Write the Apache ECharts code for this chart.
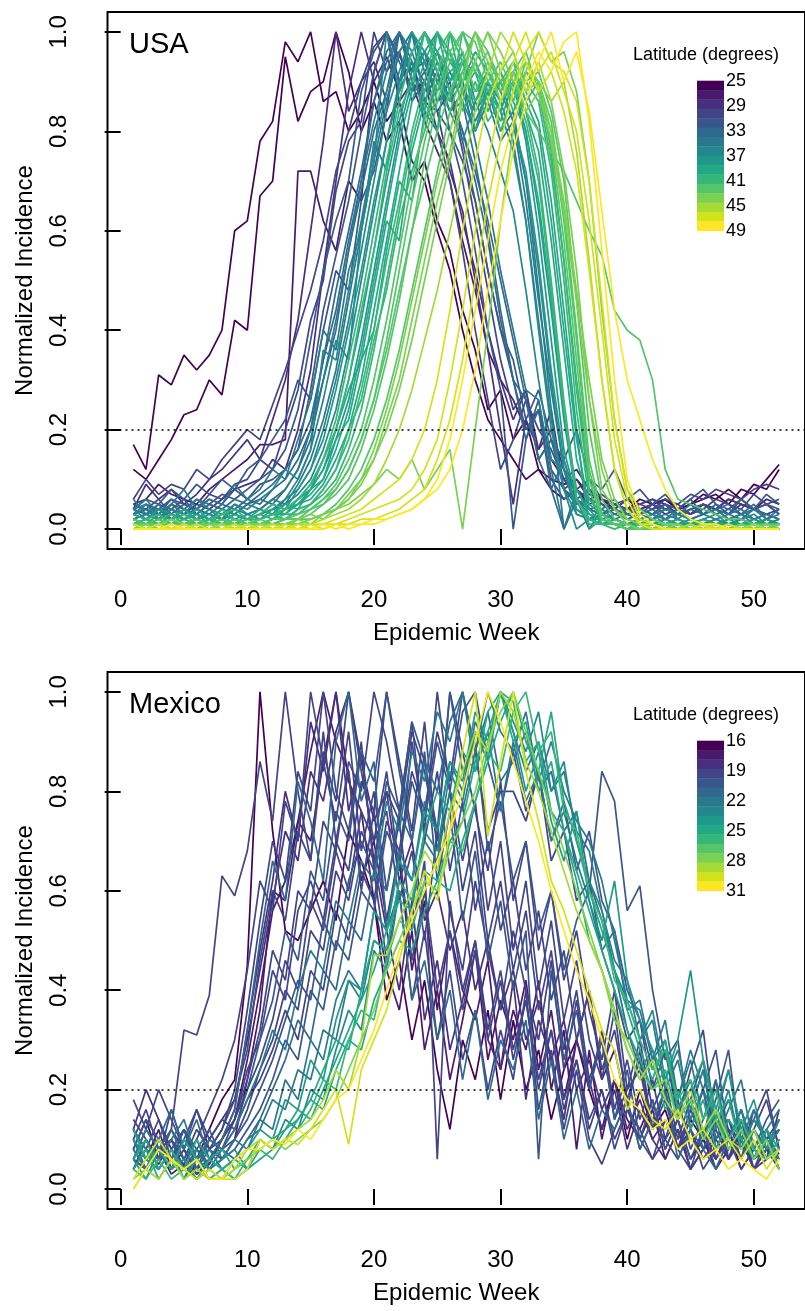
<!DOCTYPE html>
<html><head><meta charset="utf-8">
<script src="https://cdn.jsdelivr.net/npm/echarts@6/dist/echarts.min.js"></script>
<style>html,body{margin:0;padding:0;background:#fff}#c{width:805px;height:1311px}</style>
</head><body><div id="c"></div>
<script>
const weeks = [1,2,3,4,5,6,7,8,9,10,11,12,13,14,15,16,17,18,19,20,21,22,23,24,25,26,27,28,29,30,31,32,33,34,35,36,37,38,39,40,41,42,43,44,45,46,47,48,49,50,51,52];
const xTicks = [0,10,20,30,40,50];
const yTicks = [0,0.2,0.4,0.6,0.8,1.0];
const usaLegendTicks = [25,29,33,37,41,45,49];
const mexLegendTicks = [16,19,22,25,28,31];
const viridis16 = ['#440154','#481A6C','#472F7D','#414487','#39568C','#31688E','#2A788E','#23888E','#1F988B','#22A884','#35B779','#54C568','#7AD151','#A5DB36','#D2E21B','#FDE725'];

// USA: latitude of each line and weekly normalized incidence (percent of peak)
const usaLat = [25.5,26,27,28,29,29.5,30.5,31,31.5,32,32.5,33,33.5,34,35,35,35.5,36,36,36.5,37,37.5,38,38.5,39,39,39.5,40,40,40.5,40.5,41,41.5,41.5,42,42,42.5,43,43,43.5,44,45,46,46.5,47,48,48.5];
const US01 = [17,12,31,29,35,32,35,40,60,62,78,82,98,94,100,86,88,80,84,90,82,86,74,70,60,52,40,30,22,18,14,10,12,8,6,8,5,6,4,6,4,5,6,4,5,7,6,8,6,9,8,12];
const US02 = [12,10,14,18,23,24,30,27,42,40,67,70,95,82,88,90,100,92,80,86,78,82,70,74,62,56,44,36,24,28,18,22,12,10,9,10,7,6,5,4,6,5,6,4,5,6,7,5,8,7,10,13];
const US03 = [5,6,9,7,6,5,8,10,12,14,17,17,18,72,72,62,56,70,66,92,100,86,90,82,76,70,58,48,36,30,26,20,24,14,10,12,8,6,5,4,5,6,5,4,3,5,4,6,5,4,6,5];
const US04 = [4,9,6,8,5,7,10,12,15,18,14,22,30,42,60,78,100,84,90,94,86,96,88,90,80,74,62,52,40,30,22,28,16,20,12,8,10,6,5,4,3,4,5,3,4,5,4,3,5,4,3,4];
const US05 = [2,3,2,4,3,5,4,6,8,9,10,14,12,20,32,52,70,88,100,90,95,88,94,86,84,72,64,50,36,20,5,22,16,24,8,10,6,5,4,3,4,5,3,4,3,5,4,6,5,4,5,3];
const US06 = [6,10,7,9,8,12,10,14,17,20,18,25,32,40,48,58,72,80,90,97,100,90,94,84,80,70,56,40,26,12,18,26,20,16,10,8,6,7,5,6,5,4,6,5,7,6,8,7,6,8,9,8];
const US07 = [3,5,4,6,5,4,7,6,9,10,14,12,20,28,42,50,68,78,82,100,92,96,86,90,84,88,76,62,48,34,24,28,14,18,10,6,8,5,4,6,5,6,4,5,3,4,6,5,4,7,5,6];
const US08 = [4,3,5,4,6,3,5,7,6,8,10,12,16,24,38,52,62,70,88,96,100,94,88,92,84,80,70,56,40,28,0,18,26,12,8,6,4,5,3,4,3,5,4,3,4,5,3,4,6,4,5,3];
const US09 = [4,6,5,8,6,9,7,10,8,12,14,18,22,30,26,40,52,48,66,72,84,100,90,86,92,80,74,66,52,40,34,22,28,18,14,20,10,8,12,6,8,5,7,4,6,8,5,3,6,4,7,5];
const US10 = [5,4,6,3,5,4,6,5,8,6,9,10,12,16,28,44,55,66,80,92,100,95,92,96,86,90,78,66,52,40,30,20,24,10,6,8,4,3,5,4,4,3,5,4,6,3,4,5,3,4,5,4];
const US11 = [3,4,3,5,4,6,5,4,6,5,7,9,12,16,22,34,44,58,70,86,96,100,92,94,86,88,80,70,58,42,30,18,24,8,14,6,0,4,6,3,4,3,5,2,4,3,5,4,3,5,2,4];
const US12 = [3,4,2,5,3,4,3,5,4,6,5,8,10,14,20,34,48,60,72,86,94,100,92,96,90,84,86,74,60,44,30,26,14,8,0,6,4,3,4,2,3,4,2,3,5,3,4,3,2,4,3,2];
const US13 = [4,5,3,6,4,3,5,4,3,5,6,5,8,12,18,30,40,56,68,80,88,100,94,90,96,88,80,72,62,50,38,26,14,18,8,5,6,3,4,3,2,3,4,3,2,3,4,2,3,2,3,2];
const US14 = [2,3,4,3,2,4,3,2,4,3,4,6,5,9,14,22,32,46,60,74,86,96,100,92,96,88,90,78,66,52,40,28,26,12,0,8,4,3,2,3,2,3,2,4,2,3,2,3,4,2,3,2];
const US15 = [6,3,5,2,4,3,2,4,3,5,4,6,8,12,20,30,42,56,70,82,92,100,96,88,94,86,90,82,88,80,84,70,48,24,0,6,3,2,3,2,1,2,3,2,1,2,1,2,3,1,2,1];
const US16 = [4,6,3,5,8,4,6,5,9,6,8,12,10,18,26,40,36,52,60,78,72,90,100,86,92,84,88,80,86,78,82,66,46,28,12,5,6,3,4,2,3,2,4,3,2,3,4,2,3,4,2,3];
const US17 = [3,2,4,2,3,2,4,2,3,2,3,4,6,10,16,36,34,48,62,76,88,96,100,94,88,92,86,80,90,84,76,62,40,20,8,3,2,3,2,1,2,1,2,3,2,1,2,1,2,3,1,2];
const US18 = [2,3,2,4,2,3,1,2,3,2,3,4,5,7,10,16,24,36,50,64,78,90,96,100,94,90,96,86,92,88,82,70,52,30,12,4,2,1,2,1,1,2,1,2,1,1,2,1,1,2,1,1];
const US19 = [3,5,2,4,3,6,4,3,5,4,6,8,12,10,16,26,38,34,60,74,100,88,94,82,90,84,78,86,80,72,64,48,30,14,12,3,2,4,2,1,2,3,1,2,1,2,3,1,2,1,2,1];
const US20 = [4,2,3,2,4,2,3,2,5,3,4,3,6,8,12,20,30,42,56,70,84,92,100,94,90,96,88,84,90,86,78,62,42,22,8,0,2,3,2,1,2,1,2,1,2,1,2,1,2,1,1,2];
const US21 = [2,1,3,2,1,2,3,2,1,3,2,3,4,6,8,14,20,30,42,56,70,82,92,100,96,90,94,88,92,86,90,78,60,38,16,6,2,2,1,1,1,2,1,1,2,1,1,2,1,1,2,1];
const US22 = [3,2,4,3,2,3,2,4,3,2,3,5,4,8,12,18,28,40,52,66,78,88,100,96,92,86,94,84,88,90,82,72,54,32,14,4,2,1,2,1,1,1,2,1,1,2,1,1,1,2,1,1];
const US23 = [1,2,1,3,2,1,2,1,2,3,2,3,4,5,8,12,18,26,38,52,66,80,90,96,100,94,90,96,92,86,90,80,64,44,22,6,2,1,1,0,1,1,0,1,1,0,1,1,0,1,1,0];
const US24 = [2,1,3,1,2,4,2,1,3,2,4,3,5,4,8,12,20,28,34,48,62,58,76,86,80,100,88,92,84,90,86,80,66,46,24,8,3,2,1,1,1,0,1,2,1,0,1,1,0,1,0,1];
const US25 = [2,1,2,1,2,3,1,2,1,2,3,2,4,5,7,10,16,24,36,50,64,78,88,100,96,92,94,88,90,84,92,86,80,62,40,18,4,1,1,1,0,1,1,0,1,0,1,0,1,1,0,1];
const US26 = [3,2,1,2,4,2,1,3,2,1,2,4,3,6,8,10,18,22,34,40,56,70,66,84,100,90,96,80,88,82,90,84,76,58,36,14,5,3,2,1,1,2,1,0,1,2,1,0,1,1,0,1];
const US27 = [1,2,1,2,1,1,2,1,2,1,2,3,3,5,6,9,14,20,30,44,58,72,86,94,100,96,90,94,88,84,92,88,82,66,44,20,0,2,1,1,1,0,1,0,1,1,0,1,0,1,0,1];
const US28 = [1,2,3,1,2,1,2,3,4,2,3,5,4,6,9,14,22,34,46,60,74,86,96,100,94,88,92,86,90,80,88,84,72,50,26,6,1,1,0,1,0,1,0,1,0,0,1,0,1,0,0,1];
const US29 = [1,2,1,0,1,2,1,2,1,2,1,2,2,4,5,8,12,20,26,38,48,62,72,80,90,86,100,94,86,92,84,90,86,72,50,24,6,3,1,1,0,1,0,1,0,1,0,1,0,0,1,0];
const US30 = [2,1,1,2,1,2,1,1,2,1,1,2,3,3,5,7,10,16,24,36,50,64,78,88,96,100,94,92,88,90,94,86,90,76,54,28,8,1,1,0,1,0,0,1,0,1,0,0,1,0,1,0];
const US31 = [2,1,2,3,1,2,1,4,2,1,2,3,4,6,9,14,20,30,44,56,72,84,90,100,92,96,84,90,82,86,90,82,70,48,24,6,2,1,1,0,1,0,1,0,1,0,0,1,0,1,0,0];
const US32 = [1,1,2,1,3,1,2,1,1,2,2,3,2,4,5,8,12,18,28,40,54,66,80,90,100,96,90,94,88,92,86,92,88,74,54,30,10,2,1,0,0,1,0,0,1,0,0,1,0,0,1,0];
const US33 = [1,0,1,1,0,1,1,2,1,1,2,1,2,3,4,6,9,14,20,30,42,56,70,82,92,100,96,88,94,90,86,94,88,80,62,38,12,2,1,1,0,0,1,0,0,1,0,0,0,1,0,0];
const US34 = [0,1,1,0,1,1,0,1,1,0,1,1,2,2,4,5,8,12,18,26,38,52,66,78,88,96,100,98,90,94,88,92,90,82,64,40,14,3,1,1,0,0,1,0,0,0,1,0,0,0,0,1];
const US35 = [1,1,0,1,1,0,1,1,0,1,1,1,2,2,3,5,7,10,16,24,34,46,60,74,86,94,100,92,96,90,92,96,88,78,58,34,10,2,1,0,0,1,0,0,0,1,0,0,0,0,1,0];
const US36 = [2,1,2,1,1,2,1,1,2,1,1,2,2,3,4,6,8,12,18,26,36,48,60,70,80,88,94,100,92,86,90,84,80,76,72,66,60,55,44,40,38,30,12,6,5,4,3,2,2,1,1,1];
const US37 = [1,0,1,0,0,1,0,1,0,1,0,1,1,2,2,3,5,8,12,18,26,36,48,60,72,84,92,100,96,88,94,90,92,84,70,46,20,6,2,1,0,0,0,1,0,0,0,0,1,0,0,0];
const US38 = [0,1,0,0,1,0,0,1,0,0,1,0,1,1,2,3,4,6,10,14,22,30,42,54,66,76,88,94,100,96,90,94,90,86,72,52,26,8,4,2,1,0,0,0,1,0,0,0,0,0,1,0];
const US39 = [0,1,0,1,0,0,1,0,1,0,1,0,1,1,2,3,4,6,9,14,20,28,38,50,62,74,86,94,100,92,96,88,90,80,66,48,30,14,6,2,1,0,0,1,0,0,0,1,0,0,0,1];
const US40 = [1,0,1,2,1,0,1,1,0,1,1,1,0,2,3,2,4,5,7,9,12,10,14,8,12,16,0,20,40,62,80,92,100,94,96,88,70,44,22,8,4,2,1,1,0,1,0,0,1,0,0,0];
const US41 = [0,0,1,0,0,1,0,0,0,1,0,1,1,2,1,3,4,7,10,16,24,34,46,58,70,80,90,100,94,86,92,84,88,78,64,46,26,12,4,1,0,1,0,0,0,1,0,0,0,0,1,0];
const US42 = [0,0,0,1,0,0,0,1,0,0,1,0,0,1,1,2,3,4,6,9,14,20,28,38,48,60,72,84,92,100,96,88,94,86,90,76,54,30,12,4,1,0,0,0,1,0,0,0,0,1,0,0];
const US43 = [0,0,1,0,0,0,0,0,1,0,0,0,1,0,1,1,2,3,4,6,8,10,14,20,30,44,60,74,86,92,100,94,88,92,84,72,52,30,12,4,1,0,0,0,0,0,1,0,0,0,0,0];
const US44 = [1,0,0,0,1,0,0,0,0,1,0,0,0,1,0,1,1,2,3,4,5,6,8,12,18,30,44,60,74,86,94,100,92,96,88,80,62,40,18,6,1,1,0,0,0,1,0,0,0,0,0,0];
const US45 = [0,0,0,0,0,1,0,0,0,0,0,1,0,0,1,0,1,1,2,2,3,4,6,8,14,22,34,50,66,78,88,96,100,94,92,86,70,46,22,8,2,1,0,0,0,0,0,1,0,0,0,0];
const US46 = [0,0,0,0,0,0,0,0,0,0,0,0,0,0,0,1,0,1,1,2,2,3,4,6,10,18,30,44,58,72,82,90,96,92,98,100,82,56,30,10,3,1,0,0,0,0,0,0,0,0,0,0];
const US47 = [0,0,0,1,0,0,0,0,0,0,0,0,0,0,0,0,1,0,1,1,2,3,4,6,8,12,20,32,48,62,76,86,94,100,90,96,84,64,44,30,22,14,8,4,2,1,1,0,0,0,0,0];
const usaLines = [US01,US02,US03,US04,US05,US06,US07,US08,US09,US10,US11,US12,US13,US14,US15,US16,US17,US18,US19,US20,US21,US22,US23,US24,US25,US26,US27,US28,US29,US30,US31,US32,US33,US34,US35,US36,US37,US38,US39,US40,US41,US42,US43,US44,US45,US46,US47];

// Mexico: one line per state
const mexLat = [16.5,17,17.5,18,18.8,19,19,19.1,19.2,19.3,19.4,19.4,19.5,19.6,20.5,20.3,20.8,20.6,21,21.7,22,22.2,22.8,24,24.5,25,25,25.6,27.3,28.6,29.3,30.8];
const MX01 = [8,14,6,10,4,6,12,18,22,45,100,72,52,50,56,62,54,72,66,58,38,46,30,42,24,12,30,22,36,18,34,20,28,14,24,30,20,12,22,10,20,12,16,8,14,10,6,12,4,8,6,10];
const MX02 = [10,6,12,4,8,3,5,10,14,26,40,56,62,74,70,86,100,82,76,58,44,36,52,28,40,22,34,48,26,38,30,42,24,36,18,30,40,22,28,16,12,18,8,14,6,10,4,8,12,6,10,7];
const MX03 = [6,4,8,3,5,2,4,6,10,22,36,60,58,74,88,100,90,84,62,70,54,66,44,58,36,52,40,34,46,24,36,28,42,20,32,8,28,10,22,14,10,16,6,12,4,8,14,6,10,4,8,12];
const MX04 = [12,20,14,8,12,6,10,14,18,30,44,58,72,66,84,78,92,100,86,74,80,62,70,54,60,48,56,40,50,36,44,30,38,26,34,20,26,16,22,12,18,10,14,8,12,6,10,14,8,12,6,16];
const MX05 = [4,8,5,10,6,3,6,10,16,32,48,62,80,70,94,84,100,76,88,66,52,40,58,34,46,28,38,50,30,24,42,18,34,26,14,30,22,12,20,8,16,10,6,12,4,8,10,6,12,4,6,8];
const MX06 = [14,10,6,16,8,4,10,8,14,24,30,44,38,56,62,54,70,64,82,76,100,86,72,94,68,80,60,72,50,62,44,56,36,48,28,40,22,30,14,20,24,12,18,8,14,20,6,12,10,4,8,14];
const MX07 = [6,12,8,4,10,6,8,12,20,36,54,70,62,84,76,100,80,72,90,64,46,60,38,52,30,44,26,36,20,32,22,40,16,28,12,24,10,5,12,18,8,14,10,6,12,4,8,10,6,12,8,4];
const MX08 = [8,4,10,6,12,8,5,10,14,20,26,34,46,40,58,52,68,60,76,70,84,64,90,72,100,80,66,78,56,70,48,62,40,54,34,46,30,22,36,16,28,12,20,8,16,24,10,14,6,12,18,8];
const MX09 = [10,6,4,8,5,10,16,22,30,44,62,56,78,70,100,86,74,92,68,80,60,74,52,66,6,58,40,50,32,44,28,38,22,32,18,26,14,20,10,16,12,6,10,14,4,8,12,6,10,4,8,6];
const MX10 = [4,10,6,12,8,4,6,8,10,16,24,30,40,36,52,48,64,58,72,66,80,74,92,84,70,100,88,76,64,82,58,70,48,60,42,52,36,26,40,20,30,16,22,10,18,26,8,14,10,6,12,8];
const MX11 = [12,8,14,6,10,16,8,12,18,28,46,60,54,72,66,88,78,100,84,70,76,58,68,50,72,56,44,62,48,36,52,40,30,46,24,38,20,32,16,26,14,22,10,18,8,14,20,12,6,16,10,14];
const MX12 = [6,4,8,10,6,12,8,10,14,22,32,48,42,60,56,74,68,86,80,100,90,76,94,70,84,64,78,56,70,52,62,44,56,38,48,30,40,24,32,18,26,12,20,8,16,10,22,6,14,4,10,12];
const MX13 = [18,12,20,14,8,16,10,14,12,18,22,28,36,30,44,40,56,50,64,58,74,68,84,76,92,82,100,88,72,80,80,74,84,66,72,58,62,48,40,30,34,20,28,14,24,32,12,18,10,14,20,8];
const MX14 = [10,16,8,12,32,31,39,63,59,68,86,74,100,80,66,92,70,84,60,76,54,68,46,60,40,52,36,48,30,42,26,38,20,32,16,26,12,20,8,16,10,6,14,8,4,12,6,10,4,8,6,10];
const MX15 = [8,14,10,6,12,4,8,6,10,14,20,26,34,42,38,54,48,62,70,64,82,76,94,86,72,100,84,90,68,78,62,70,52,60,44,54,60,84,78,56,61,40,26,30,12,20,28,10,16,8,14,18];
const MX16 = [6,10,4,8,12,6,10,8,12,20,30,38,52,46,64,58,76,70,88,82,100,84,70,88,62,76,54,68,46,58,40,52,6,44,26,36,20,30,14,24,10,18,8,14,6,12,4,10,14,6,8,12];
const MX17 = [12,6,10,16,8,14,6,10,16,32,50,66,58,82,74,62,90,100,78,86,52,60,38,46,30,40,22,36,18,30,24,34,14,26,10,20,8,16,12,18,8,14,20,6,12,8,4,10,16,6,12,4];
const MX18 = [4,8,6,10,4,8,12,6,8,12,16,22,30,26,40,36,50,46,60,56,72,66,82,74,90,80,96,100,86,76,88,76,84,70,78,64,72,58,52,40,34,24,28,16,22,10,18,28,8,14,10,6];
const MX19 = [10,4,8,12,6,10,4,8,6,10,14,20,26,34,30,44,40,54,50,64,60,76,70,86,80,94,100,88,96,82,86,92,80,84,72,76,62,54,44,32,24,28,18,14,18,8,14,10,6,12,8,14];
const MX20 = [6,12,8,4,10,6,8,4,6,10,12,18,16,24,22,32,30,42,38,50,48,62,58,70,66,80,76,88,100,92,88,96,82,90,80,74,70,62,50,38,36,26,30,18,26,14,22,10,16,8,12,6];
const MX21 = [8,4,10,6,2,8,4,6,10,8,14,12,22,18,30,26,38,44,40,56,52,68,62,78,72,86,80,94,88,100,92,84,90,80,84,72,68,56,46,42,30,34,20,26,14,20,10,16,22,8,12,16];
const MX22 = [12,8,6,10,14,6,10,8,12,18,24,32,28,40,48,44,58,54,66,62,78,72,88,82,96,90,100,84,92,76,90,78,84,70,76,66,58,48,52,36,38,26,34,18,28,20,14,24,10,16,8,12];
const MX23 = [6,2,8,4,6,2,4,6,8,4,10,8,14,12,20,18,28,36,32,48,44,60,56,72,68,84,78,92,86,100,94,88,96,80,86,70,62,56,44,38,30,36,22,28,16,24,12,20,8,14,10,6];
const MX24 = [10,6,4,8,2,6,4,2,6,8,12,10,18,16,26,22,34,42,40,56,52,66,62,76,72,86,82,96,90,100,92,80,88,74,66,76,58,50,62,42,34,28,22,30,44,26,16,24,12,18,8,14];
const MX25 = [4,8,2,6,4,2,6,4,2,4,6,8,10,14,18,24,30,28,40,50,48,62,58,72,80,76,88,84,96,100,90,94,80,86,72,64,56,48,40,32,26,20,24,14,18,10,16,8,12,6,10,4];
const MX26 = [12,6,8,4,10,6,2,4,6,4,8,10,12,16,14,20,26,32,38,44,52,58,56,64,62,70,74,86,92,100,98,86,90,76,72,62,50,44,36,28,22,26,16,20,12,18,8,14,10,6,12,8];
const MX27 = [6,10,4,8,4,10,6,8,4,6,10,8,12,14,18,16,24,30,28,38,44,50,48,56,62,60,70,78,86,94,100,90,84,96,78,70,60,52,44,36,28,22,30,16,20,26,14,18,8,12,6,10];
const MX28 = [4,2,6,2,4,6,2,4,2,6,8,6,10,12,16,22,20,30,36,34,46,54,52,62,60,70,68,78,88,84,96,100,88,92,76,72,60,54,42,38,30,24,28,18,22,14,20,10,14,8,6,10];
const MX29 = [2,4,2,6,2,4,2,2,4,6,8,10,8,10,12,14,18,24,30,36,44,50,56,62,60,68,74,80,90,96,100,92,84,76,68,60,52,44,34,30,24,20,22,14,18,10,14,8,12,6,10,4];
const MX30 = [0,4,2,6,2,4,2,2,4,8,10,8,10,12,14,18,24,20,30,47,47,54,60,68,64,76,84,92,88,100,96,86,80,72,64,56,50,44,36,28,22,26,18,14,20,12,16,10,8,12,6,8];
const MX31 = [2,6,10,6,4,2,4,2,2,4,10,8,10,9,12,16,20,9,24,30,36,46,56,64,58,72,88,100,71,86,100,84,74,62,56,48,40,32,28,16,20,14,12,16,10,12,8,10,6,10,4,8];
const MX32 = [0,4,8,6,4,6,2,2,6,8,8,10,9,12,10,14,18,20,26,32,40,48,54,60,66,72,80,90,100,94,86,78,70,60,52,44,38,30,22,18,16,12,14,8,10,6,8,4,6,4,2,6];
const mexLines = [MX01,MX02,MX03,MX04,MX05,MX06,MX07,MX08,MX09,MX10,MX11,MX12,MX13,MX14,MX15,MX16,MX17,MX18,MX19,MX20,MX21,MX22,MX23,MX24,MX25,MX26,MX27,MX28,MX29,MX30,MX31,MX32];

const FONT = '"Liberation Sans", Arial, Helvetica, sans-serif';
function binColor(lat, lo, hi) {
  const b = Math.floor((lat - lo) / (hi - lo) * 16);
  return viridis16[Math.max(0, Math.min(15, b))];
}
const series = [];
function addPanel(lines, lats, lo, hi, gi) {
  lines.forEach((vals, k) => {
    const col = binColor(lats[k], lo, hi);
    series.push({
      type: 'line', xAxisIndex: gi, yAxisIndex: gi,
      data: weeks.map((w, i) => [w, vals[i] / 100]),
      showSymbol: false, symbol: 'none', silent: true, animation: false,
      lineStyle: { width: 1.7, color: col }, itemStyle: { color: col }, z: 2
    });
  });
  series[series.length - 1].markLine = {
    silent: true, symbol: 'none', animation: false,
    label: { show: false },
    lineStyle: { color: '#000', type: [2, 4], width: 1.5 },
    data: [{ yAxis: 0.2 }]
  };
}
function addBar(lo, hi, gi) {
  const step = (hi - lo) / 16;
  const data = viridis16.map((c, i) => [lo + i * step, lo + (i + 1) * step, i]);
  series.push({
    type: 'custom', xAxisIndex: gi, yAxisIndex: gi, data: data, silent: true, animation: false,
    renderItem: function (p, api) {
      const a = api.coord([0, api.value(0)]);
      const b = api.coord([1, api.value(1)]);
      return {
        type: 'rect',
        shape: { x: Math.min(a[0], b[0]), y: Math.min(a[1], b[1]), width: Math.abs(b[0] - a[0]), height: Math.abs(b[1] - a[1]) + 0.4 },
        style: { fill: viridis16[api.value(2)] }
      };
    }
  });
}
addPanel(usaLines, usaLat, 25, 49, 0);
addPanel(mexLines, mexLat, 16, 31, 1);
addBar(25, 49, 2);
addBar(16, 31, 3);

function mainX(gi) {
  return {
    gridIndex: gi, type: 'value', min: -1.04, max: 54.04,
    splitLine: { show: false }, axisLine: { show: false },
    axisTick: { show: true, length: 16, customValues: xTicks, lineStyle: { color: '#000', width: 2 } },
    axisLabel: { customValues: xTicks, margin: 39, fontSize: 24, color: '#000', fontFamily: FONT },
    name: 'Epidemic Week', nameLocation: 'middle', nameGap: 72,
    nameTextStyle: { fontSize: 24, color: '#000', fontFamily: FONT }
  };
}
function mainY(gi) {
  return {
    gridIndex: gi, type: 'value', min: -0.04, max: 1.04,
    splitLine: { show: false }, axisLine: { show: false },
    axisTick: { show: true, length: 16, customValues: yTicks, lineStyle: { color: '#000', width: 2 } },
    axisLabel: { customValues: yTicks, rotate: 90, margin: 36, fontSize: 24, color: '#000', fontFamily: FONT,
      formatter: v => Number(v).toFixed(1) },
    name: 'Normalized Incidence', nameLocation: 'middle', nameGap: 70,
    nameTextStyle: { fontSize: 24, color: '#000', fontFamily: FONT }
  };
}
function barX(gi) { return { gridIndex: gi, type: 'value', min: 0, max: 1, show: false }; }
function barY(gi, lo, hi, ticks) {
  return {
    gridIndex: gi, type: 'value', min: lo, max: hi, inverse: true, position: 'right',
    splitLine: { show: false }, axisLine: { show: false }, axisTick: { show: false },
    axisLabel: { customValues: ticks, margin: 2, fontSize: 18, color: '#000', fontFamily: FONT, showMinLabel: true, showMaxLabel: true }
  };
}
const titleStyle = (size) => ({ fontSize: size, fontWeight: 'normal', color: '#000', fontFamily: FONT });

const option = {
  backgroundColor: '#fff',
  animation: false,
  title: [
    { text: 'USA', left: 129, top: 30, padding: 0, textStyle: titleStyle(29) },
    { text: 'Mexico', left: 129, top: 690, padding: 0, textStyle: titleStyle(29) },
    { text: 'Latitude (degrees)', left: 633, top: 46, padding: 0, textStyle: titleStyle(18) },
    { text: 'Latitude (degrees)', left: 633, top: 706, padding: 0, textStyle: titleStyle(18) }
  ],
  grid: [
    { left: 107.5, top: 12, width: 706.3, height: 537, show: true, borderColor: '#000', borderWidth: 2, backgroundColor: 'transparent' },
    { left: 107.5, top: 672, width: 706.3, height: 537, show: true, borderColor: '#000', borderWidth: 2, backgroundColor: 'transparent' },
    { left: 697, top: 80.7, width: 27, height: 150 },
    { left: 697, top: 740.7, width: 27, height: 150 }
  ],
  xAxis: [mainX(0), mainX(1), barX(2), barX(3)],
  yAxis: [mainY(0), mainY(1), barY(2, 25, 49, usaLegendTicks), barY(3, 16, 31, mexLegendTicks)],
  series: series
};
const chart = echarts.init(document.getElementById('c'), null, { renderer: 'canvas' });
chart.setOption(option);
</script>
</body></html>
